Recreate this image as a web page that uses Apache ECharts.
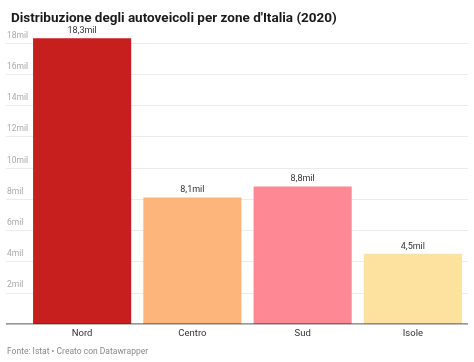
<!DOCTYPE html>
<html>
<head>
<meta charset="utf-8">
<script src="https://cdn.jsdelivr.net/npm/echarts@6/dist/echarts.min.js"></script>
<style>
  html, body { margin: 0; padding: 0; background: #fff; }
  #chart { width: 474px; height: 362px; }
</style>
</head>
<body>
<div id="chart"></div>
<script>
// dati (milioni di autoveicoli)
const zone = ['Nord', 'Centro', 'Sud', 'Isole'];
const valori = [18.3, 8.1, 8.8, 4.5];
const colori = ['#c71f1e', '#fdb57b', '#fe8894', '#fde29f'];
const yMax = 18;
const yStep = 2;

const chart = echarts.init(document.getElementById('chart'));
const font = 'Roboto, sans-serif';

chart.setOption({
  animation: false,
  title: {
    text: "Distribuzione degli autoveicoli per zone d'Italia (2020)",
    left: 6, top: 7,
    textStyle: { fontFamily: font, fontSize: 13.5, fontWeight: 'bold', color: '#1a1a1a' }
  },
  graphic: [{
    type: 'text', left: 7, top: 347,
    style: { text: 'Fonte: Istat • Creato con Datawrapper', fontFamily: font, fontSize: 8.5, fill: '#8a8a8a' }
  }],
  grid: [
    // griglia di sfondo con etichette
    { left: 6, right: 6, top: 43, bottom: 38 },
    // barre
    { left: 27, right: 6, top: 43, bottom: 38 }
  ],
  xAxis: [
    { gridIndex: 0, type: 'value', min: 0, max: 1, show: false },
    {
      gridIndex: 1, type: 'category', data: zone,
      axisLine: { show: false }, axisTick: { show: false },
      axisLabel: { fontFamily: font, fontSize: 9.5, color: '#333', margin: 5 }
    }
  ],
  yAxis: [
    {
      gridIndex: 0, type: 'value', min: 0, max: yMax, interval: yStep,
      axisLine: { show: false },
      axisTick: { show: false },
      splitLine: { lineStyle: { color: '#ebebeb', width: 1 } },
      axisLabel: {
        inside: true, margin: 1, verticalAlign: 'bottom', padding: [0, 0, 3, 0],
        fontFamily: font, fontSize: 8.5, color: '#aaa',
        formatter: v => v === 0 ? '' : v + 'mil'
      }
    },
    { gridIndex: 1, type: 'value', min: 0, max: yMax, interval: yStep, show: false }
  ],
  series: [
    {
      // linea di base
      type: 'line', xAxisIndex: 0, yAxisIndex: 0,
      data: [[0, 0], [1, 0]], symbol: 'none',
      lineStyle: { color: '#333', width: 1 }, silent: true
    },
    {
      type: 'bar', xAxisIndex: 1, yAxisIndex: 1,
      data: valori.map((v, i) => ({ value: v, itemStyle: { color: colori[i] } })),
      barCategoryGap: '11%',
      clip: false,
      label: {
        show: true, position: 'top', distance: 3,
        fontFamily: font, fontSize: 9, color: '#333',
        formatter: p => String(p.value).replace('.', ',') + 'mil'
      }
    }
  ]
});
</script>
</body>
</html>
